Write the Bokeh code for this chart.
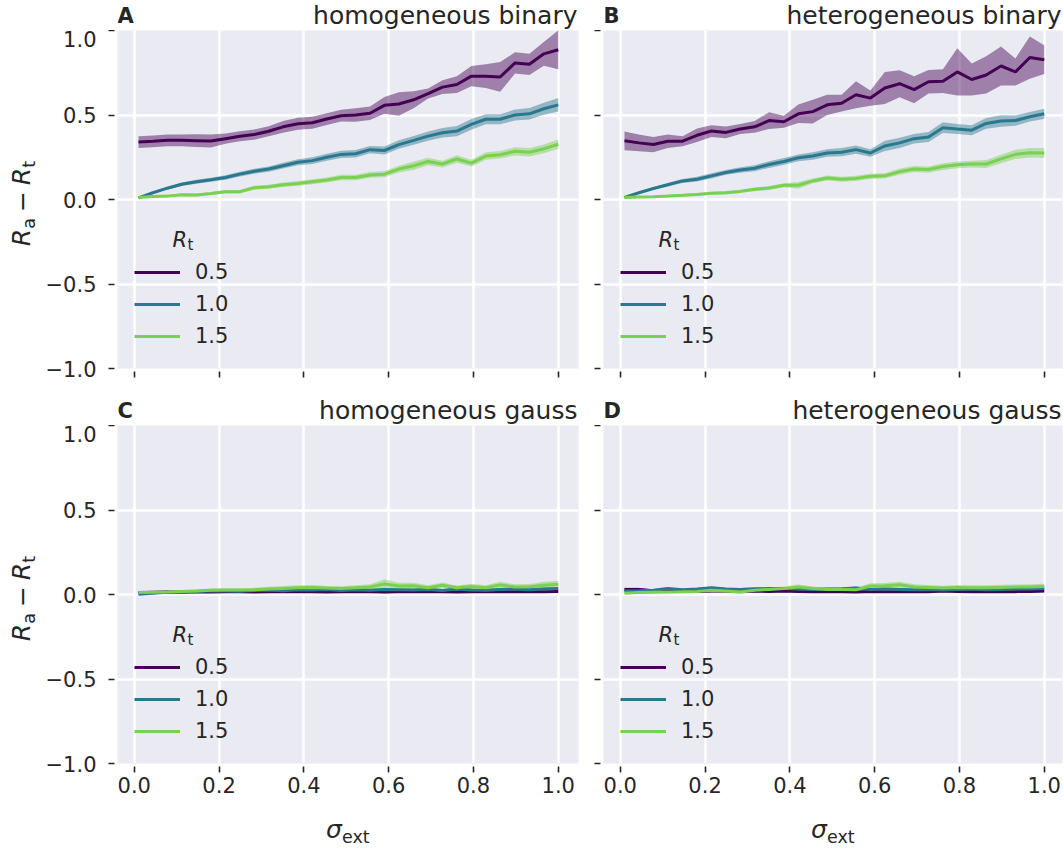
import math
from bokeh.plotting import figure
from bokeh.models import Range1d, FixedTicker, Label, Legend, LegendItem, ColumnDataSource
from bokeh.layouts import column, row
from bokeh.embed import file_html
from bokeh.resources import INLINE

FONT = "DejaVu Sans"
INK = "#262626"
BG = "#eaeaf2"

# external noise levels (x axis)
sigma_ext = [0.010, 0.044, 0.078, 0.112, 0.147, 0.181, 0.215, 0.249, 0.283, 0.317,
             0.351, 0.386, 0.420, 0.454, 0.488, 0.522, 0.556, 0.590, 0.624, 0.659,
             0.693, 0.727, 0.761, 0.795, 0.829, 0.863, 0.898, 0.932, 0.966, 1.000]

rt_levels = ["0.5", "1.0", "1.5"]
rt_colors = ["#440154", "#2a788e", "#7ad151"]

# A: homogeneous binary
hom_bin_05 = [0.340, 0.344, 0.350, 0.350, 0.348, 0.346, 0.360, 0.374, 0.384, 0.404,
              0.430, 0.448, 0.454, 0.476, 0.496, 0.500, 0.510, 0.557, 0.565, 0.590,
              0.627, 0.665, 0.680, 0.730, 0.730, 0.725, 0.808, 0.800, 0.862, 0.886]
hom_bin_05_err = [0.035, 0.035, 0.035, 0.035, 0.038, 0.038, 0.030, 0.030, 0.030, 0.030,
                  0.035, 0.035, 0.035, 0.035, 0.035, 0.040, 0.040, 0.050, 0.070, 0.050,
                  0.030, 0.040, 0.050, 0.060, 0.070, 0.088, 0.063, 0.063, 0.070, 0.115]
hom_bin_10 = [0.010, 0.040, 0.067, 0.090, 0.105, 0.117, 0.130, 0.150, 0.167, 0.180,
              0.200, 0.220, 0.230, 0.250, 0.267, 0.271, 0.295, 0.290, 0.325, 0.350,
              0.375, 0.395, 0.405, 0.445, 0.475, 0.475, 0.500, 0.507, 0.537, 0.560]
hom_bin_10_err = [0.003, 0.006, 0.008, 0.010, 0.012, 0.012, 0.013, 0.014, 0.015, 0.016,
                  0.017, 0.018, 0.020, 0.020, 0.022, 0.022, 0.022, 0.024, 0.025, 0.026,
                  0.027, 0.028, 0.030, 0.032, 0.030, 0.030, 0.032, 0.034, 0.036, 0.040]
hom_bin_15 = [0.012, 0.018, 0.020, 0.028, 0.026, 0.035, 0.046, 0.046, 0.070, 0.075,
              0.087, 0.095, 0.105, 0.115, 0.130, 0.130, 0.145, 0.150, 0.180, 0.200,
              0.225, 0.210, 0.240, 0.215, 0.257, 0.265, 0.285, 0.280, 0.300, 0.327]
hom_bin_15_err = [0.003, 0.005, 0.006, 0.007, 0.008, 0.009, 0.010, 0.010, 0.012, 0.012,
                  0.013, 0.014, 0.015, 0.015, 0.016, 0.016, 0.017, 0.018, 0.020, 0.025,
                  0.022, 0.020, 0.022, 0.020, 0.022, 0.022, 0.024, 0.025, 0.026, 0.028]

# B: heterogeneous binary
het_bin_05 = [0.347, 0.335, 0.325, 0.345, 0.345, 0.380, 0.405, 0.397, 0.417, 0.430,
              0.467, 0.460, 0.507, 0.520, 0.560, 0.570, 0.620, 0.600, 0.660, 0.685,
              0.650, 0.697, 0.700, 0.755, 0.710, 0.737, 0.790, 0.755, 0.840, 0.827]
het_bin_05_err = [0.056, 0.050, 0.045, 0.040, 0.030, 0.040, 0.035, 0.035, 0.030, 0.035,
                  0.050, 0.035, 0.055, 0.070, 0.060, 0.050, 0.080, 0.045, 0.095, 0.080,
                  0.080, 0.070, 0.070, 0.140, 0.095, 0.110, 0.115, 0.080, 0.125, 0.085]
het_bin_10 = [0.012, 0.040, 0.065, 0.087, 0.110, 0.120, 0.140, 0.160, 0.175, 0.185,
              0.207, 0.225, 0.247, 0.257, 0.275, 0.280, 0.295, 0.275, 0.317, 0.335,
              0.360, 0.370, 0.425, 0.417, 0.410, 0.450, 0.465, 0.467, 0.490, 0.507]
het_bin_10_err = [0.003, 0.006, 0.008, 0.010, 0.012, 0.014, 0.016, 0.014, 0.016, 0.018,
                  0.020, 0.020, 0.020, 0.022, 0.022, 0.024, 0.025, 0.022, 0.030, 0.030,
                  0.028, 0.030, 0.032, 0.030, 0.030, 0.032, 0.034, 0.030, 0.028, 0.030]
het_bin_15 = [0.012, 0.015, 0.017, 0.020, 0.025, 0.030, 0.037, 0.040, 0.048, 0.060,
              0.068, 0.084, 0.084, 0.110, 0.127, 0.120, 0.125, 0.137, 0.140, 0.165,
              0.180, 0.177, 0.195, 0.205, 0.210, 0.210, 0.240, 0.267, 0.277, 0.275]
het_bin_15_err = [0.003, 0.004, 0.005, 0.006, 0.007, 0.008, 0.009, 0.010, 0.010, 0.011,
                  0.012, 0.012, 0.020, 0.014, 0.015, 0.015, 0.015, 0.016, 0.016, 0.018,
                  0.018, 0.018, 0.020, 0.020, 0.020, 0.024, 0.025, 0.027, 0.028, 0.030]

# C: homogeneous gauss
hom_gau_05 = [0.012, 0.014, 0.015, 0.013, 0.016, 0.015, 0.017, 0.016, 0.015, 0.017,
              0.018, 0.016, 0.017, 0.015, 0.016, 0.018, 0.017, 0.015, 0.016, 0.018,
              0.017, 0.016, 0.015, 0.017, 0.018, 0.016, 0.017, 0.018, 0.017, 0.018]
hom_gau_05_err = [0.005, 0.005, 0.005, 0.005, 0.005, 0.005, 0.006, 0.006, 0.006, 0.006,
                  0.006, 0.006, 0.006, 0.006, 0.006, 0.006, 0.006, 0.007, 0.006, 0.006,
                  0.006, 0.006, 0.006, 0.006, 0.006, 0.007, 0.006, 0.006, 0.006, 0.006]
hom_gau_10 = [0.002, 0.008, 0.014, 0.012, 0.018, 0.022, 0.020, 0.019, 0.024, 0.026,
              0.022, 0.028, 0.026, 0.030, 0.024, 0.028, 0.025, 0.030, 0.028, 0.026,
              0.030, 0.024, 0.032, 0.027, 0.025, 0.030, 0.032, 0.028, 0.033, 0.035]
hom_gau_10_err = [0.005, 0.006, 0.006, 0.006, 0.007, 0.007, 0.007, 0.007, 0.007, 0.008,
                  0.008, 0.008, 0.008, 0.008, 0.008, 0.008, 0.008, 0.009, 0.008, 0.008,
                  0.008, 0.008, 0.009, 0.008, 0.008, 0.008, 0.009, 0.008, 0.009, 0.009]
hom_gau_15 = [0.012, 0.013, 0.015, 0.018, 0.020, 0.025, 0.027, 0.026, 0.028, 0.032,
              0.036, 0.040, 0.042, 0.038, 0.036, 0.040, 0.045, 0.062, 0.050, 0.052,
              0.040, 0.055, 0.040, 0.048, 0.040, 0.057, 0.045, 0.046, 0.055, 0.060]
hom_gau_15_err = [0.006, 0.007, 0.008, 0.008, 0.009, 0.010, 0.010, 0.010, 0.012, 0.014,
                  0.014, 0.015, 0.014, 0.013, 0.013, 0.014, 0.016, 0.028, 0.020, 0.018,
                  0.014, 0.016, 0.013, 0.015, 0.014, 0.018, 0.015, 0.016, 0.020, 0.022]

# D: heterogeneous gauss
het_gau_05 = [0.030, 0.030, 0.022, 0.020, 0.018, 0.018, 0.020, 0.020, 0.018, 0.020,
              0.018, 0.020, 0.018, 0.017, 0.018, 0.016, 0.015, 0.018, 0.017, 0.016,
              0.018, 0.016, 0.020, 0.018, 0.017, 0.016, 0.018, 0.017, 0.018, 0.020]
het_gau_05_err = [0.010, 0.010, 0.008, 0.006, 0.006, 0.006, 0.006, 0.006, 0.006, 0.006,
                  0.006, 0.006, 0.006, 0.006, 0.006, 0.006, 0.006, 0.008, 0.007, 0.006,
                  0.006, 0.006, 0.007, 0.006, 0.006, 0.006, 0.006, 0.006, 0.006, 0.006]
het_gau_10 = [0.020, 0.022, 0.025, 0.035, 0.028, 0.032, 0.040, 0.032, 0.030, 0.034,
              0.035, 0.036, 0.033, 0.030, 0.032, 0.034, 0.038, 0.030, 0.032, 0.030,
              0.028, 0.030, 0.027, 0.030, 0.032, 0.028, 0.030, 0.032, 0.033, 0.035]
het_gau_10_err = [0.006, 0.006, 0.006, 0.007, 0.007, 0.007, 0.008, 0.008, 0.008, 0.008,
                  0.008, 0.008, 0.008, 0.008, 0.008, 0.008, 0.009, 0.008, 0.008, 0.008,
                  0.008, 0.008, 0.008, 0.008, 0.008, 0.008, 0.008, 0.008, 0.008, 0.009]
het_gau_15 = [0.008, 0.012, 0.014, 0.015, 0.016, 0.018, 0.025, 0.020, 0.015, 0.025,
              0.030, 0.035, 0.045, 0.035, 0.030, 0.030, 0.028, 0.050, 0.052, 0.058,
              0.045, 0.042, 0.038, 0.042, 0.040, 0.040, 0.042, 0.044, 0.045, 0.048]
het_gau_15_err = [0.005, 0.006, 0.006, 0.007, 0.008, 0.009, 0.010, 0.010, 0.010, 0.012,
                  0.012, 0.013, 0.014, 0.013, 0.012, 0.012, 0.012, 0.016, 0.016, 0.018,
                  0.015, 0.014, 0.014, 0.014, 0.014, 0.014, 0.015, 0.015, 0.016, 0.016]

x_ticks = [0.0, 0.2, 0.4, 0.6, 0.8, 1.0]
x_tick_labels = ["0.0", "0.2", "0.4", "0.6", "0.8", "1.0"]
y_ticks = [-1.0, -0.5, 0.0, 0.5, 1.0]
y_tick_labels = ["\u22121.0", "\u22120.5", "0.0", "0.5", "1.0"]

panels = [
    ("A", "homogeneous binary", [(hom_bin_05, hom_bin_05_err), (hom_bin_10, hom_bin_10_err), (hom_bin_15, hom_bin_15_err)]),
    ("B", "heterogeneous binary", [(het_bin_05, het_bin_05_err), (het_bin_10, het_bin_10_err), (het_bin_15, het_bin_15_err)]),
    ("C", "homogeneous gauss", [(hom_gau_05, hom_gau_05_err), (hom_gau_10, hom_gau_10_err), (hom_gau_15, hom_gau_15_err)]),
    ("D", "heterogeneous gauss", [(het_gau_05, het_gau_05_err), (het_gau_10, het_gau_10_err), (het_gau_15, het_gau_15_err)]),
]

X_START = -0.0395
PX_PER_X = 424.0
FRAME_H = 330
TOP_PAD = 8            # room the layout keeps above a frame for the top tick label
LABEL_STRIP_W = 40
TITLE_STRIP_H = 30
MID = 0.346            # baseline to text-box centre, in em, for DejaVu Sans


def text_label(p, text, x, y, size, style="normal", align="left", rotated=False, dx=0.0, dy=0.0):
    # (x + dx, y + dy) is the baseline start of the text; the label is anchored at its centre line
    shift = MID * size
    if rotated:
        dx -= shift
    else:
        dy += shift
    p.add_layout(Label(x=x, y=y, x_offset=dx, y_offset=dy,
                       text=text, text_font=FONT, text_font_size=f"{size}px",
                       text_font_style=style, text_color=INK, text_align=align,
                       text_baseline="middle", angle=math.pi / 2 if rotated else 0.0))


def strip(width, height, b_left=0, b_right=0):
    # plain drawing area whose data units are pixels of its frame, used for titles and axis names
    frame_w = width - b_left - b_right
    s = figure(width=width, height=height, x_range=Range1d(0, frame_w), y_range=Range1d(0, height),
               output_backend="svg", toolbar_location=None, tools="",
               x_axis_location=None, y_axis_location=None,
               min_border_left=b_left, min_border_right=b_right, min_border_top=0, min_border_bottom=0)
    s.title.visible = False
    s.grid.visible = False
    s.outline_line_color = None
    s.background_fill_color = "white"
    s.border_fill_color = "white"
    return s


def make_panel(idx, series):
    left_col = idx % 2 == 0
    bottom_row = idx >= 2
    frame_w = 461 if left_col else 459
    b_left = 117 - LABEL_STRIP_W if left_col else 17
    b_right = 8 if left_col else 1
    b_bottom = 45 if bottom_row else 27
    x_end = X_START + frame_w / PX_PER_X

    p = figure(width=b_left + frame_w + b_right, height=TOP_PAD + FRAME_H + b_bottom,
               x_range=Range1d(X_START, x_end), y_range=Range1d(-1.0, 1.0),
               output_backend="svg", toolbar_location=None, tools="",
               min_border_left=b_left, min_border_right=b_right,
               min_border_top=0, min_border_bottom=b_bottom)
    p.title.visible = False
    p.background_fill_color = BG
    p.border_fill_color = "white"
    p.outline_line_color = None

    for g in (p.xgrid, p.ygrid):
        g.grid_line_color = "white"
        g.grid_line_width = 2.5
    p.xgrid.ticker = FixedTicker(ticks=x_ticks)
    p.ygrid.ticker = FixedTicker(ticks=y_ticks)

    xa, ya = p.xaxis[0], p.yaxis[0]
    xa.ticker = FixedTicker(ticks=x_ticks)
    ya.ticker = FixedTicker(ticks=y_ticks)
    for ax in (xa, ya):
        ax.axis_line_color = None
        ax.minor_tick_line_color = None
        ax.major_tick_line_color = INK
        ax.major_tick_line_width = 1.6
        ax.major_tick_in = -3
        ax.major_tick_out = 9
        ax.major_label_text_font = FONT
        ax.major_label_text_font_size = "21px"
        ax.major_label_text_color = INK
    xa.major_label_standoff = 4
    ya.major_label_standoff = 12
    # shared axes: outer panels carry the numbers, inner ones only the ticks
    if bottom_row:
        xa.major_label_overrides = dict(zip(x_ticks, x_tick_labels))
    else:
        xa.major_label_overrides = {t: "" for t in x_ticks}
        xa.major_label_text_font_size = "14px"
        xa.major_label_standoff = 0
    if left_col:
        ya.major_label_overrides = dict(zip(y_ticks, y_tick_labels))
    else:
        ya.major_label_overrides = {t: "" for t in y_ticks}
        ya.major_label_text_font_size = "14px"
        ya.major_label_standoff = 0

    # confidence bands first, lines on top
    srcs = []
    for (mean, err) in series:
        lo = [m - e for m, e in zip(mean, err)]
        hi = [m + e for m, e in zip(mean, err)]
        srcs.append(ColumnDataSource(dict(x=sigma_ext, y=mean, lo=lo, hi=hi)))
    for src, col in zip(srcs, rt_colors):
        p.varea(x="x", y1="lo", y2="hi", source=src, fill_color=col, fill_alpha=0.45)
    lines = [p.line(x="x", y="y", source=src, line_color=col, line_width=3)
             for src, col in zip(srcs, rt_colors)]

    legend = Legend(items=[LegendItem(label=lab, renderers=[r]) for lab, r in zip(rt_levels, lines)],
                    location=(17, 20), padding=0, margin=0, spacing=8,
                    glyph_width=46, glyph_height=24, label_height=24, label_standoff=15,
                    label_text_font=FONT, label_text_font_size="21px", label_text_color=INK,
                    border_line_color=None, background_fill_alpha=0.0)
    p.add_layout(legend)

    # legend heading: italic R with subscript t (baselines measured up from the frame bottom)
    text_label(p, "R", X_START, -1.0, 21, style="italic", dx=55, dy=121)
    text_label(p, "t", X_START, -1.0, 15, dx=70, dy=118)
    return p, frame_w, b_left, b_right


figs = [make_panel(i, pan[2]) for i, pan in enumerate(panels)]

# title strips above each panel: bold letter on the left, name on the right
title_strips = []
for i, (letter, name, _) in enumerate(panels):
    p, frame_w, b_left, b_right = figs[i]
    s = strip(p.width, TITLE_STRIP_H, b_left, b_right)
    text_label(s, letter, 0, 7.5, 21, style="bold")
    text_label(s, name, frame_w - 1, 6.5, 25, align="right")
    title_strips.append(s)

# x axis name under the bottom panels: sigma with subscript ext
x_strips = []
X_STRIP_H = 855 - 2 * TITLE_STRIP_H - sum(f[0].height for f in figs[::2])
for i in (2, 3):
    p, frame_w, b_left, b_right = figs[i]
    s = strip(p.width, X_STRIP_H, b_left, b_right)
    cx = frame_w / 2
    text_label(s, "\u03c3", cx - 22, X_STRIP_H - 30, 25, style="italic")
    text_label(s, "ext", cx - 6, X_STRIP_H - 34.5, 17.5)
    x_strips.append(s)

# y axis name left of the left panels: R_a - R_t, rotated
y_strip = strip(LABEL_STRIP_W, 855)
frame_centres = [TITLE_STRIP_H + TOP_PAD + FRAME_H / 2,
                 TITLE_STRIP_H + figs[0][0].height + TITLE_STRIP_H + TOP_PAD + FRAME_H / 2]
for c in frame_centres:
    y0 = (855 - c) - 42.7
    text_label(y_strip, "R", 30, y0, 25, style="italic", rotated=True)
    text_label(y_strip, "a", 35, y0 + 17.4, 17.5, rotated=True)
    text_label(y_strip, "\u2212", 30, y0 + 34.1, 25, rotated=True)
    text_label(y_strip, "R", 30, y0 + 61.0, 25, style="italic", rotated=True)
    text_label(y_strip, "t", 35, y0 + 78.4, 17.5, rotated=True)

grid = column(
    row(column(title_strips[0], figs[0][0]), column(title_strips[1], figs[1][0])),
    row(column(title_strips[2], figs[2][0]), column(title_strips[3], figs[3][0])),
    row(x_strips[0], x_strips[1]),
)
layout = row(y_strip, grid)

open("out.html", "w").write(file_html(layout, INLINE))
